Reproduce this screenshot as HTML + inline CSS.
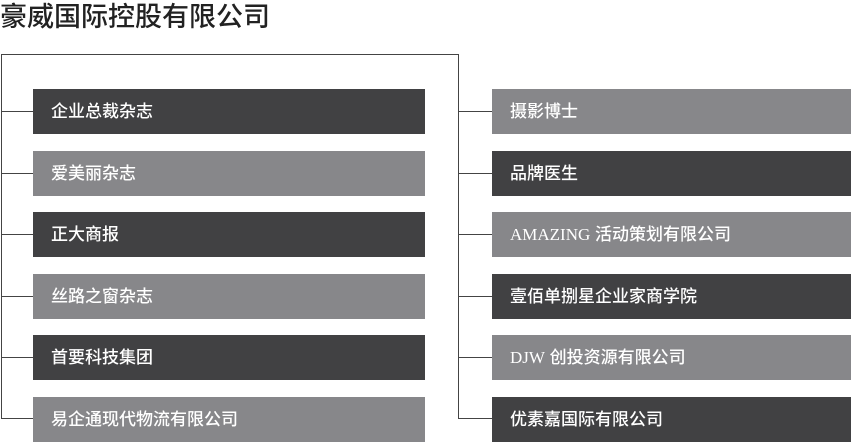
<!DOCTYPE html>
<html><head><meta charset="utf-8"><style>
body{margin:0;width:851px;height:446px;background:#fff;position:relative;overflow:hidden;font-family:"Liberation Sans","Noto Sans CJK SC",sans-serif}
.t{position:absolute;left:0;top:0;font-size:27px;color:#222;line-height:34px;font-weight:500}
.l{position:absolute;background:#444}
.b{position:absolute;height:45px;color:#fff;font-size:17px;line-height:45px;padding-left:18px;box-sizing:border-box;font-weight:500}
.d{background:#414143}.g{background:#87878a}
.s{font-family:"Liberation Serif",serif;font-weight:normal}
</style></head><body>
<div class="t">豪威国际控股有限公司</div>
<div class="l" style="left:1px;top:54px;width:458px;height:1px"></div>
<div class="l" style="left:1px;top:54px;width:1px;height:365px"></div>
<div class="l" style="left:458px;top:54px;width:1px;height:365px"></div>
<div class="l" style="left:1px;top:111px;width:32px;height:1px"></div>
<div class="l" style="left:1px;top:173px;width:32px;height:1px"></div>
<div class="l" style="left:1px;top:234px;width:32px;height:1px"></div>
<div class="l" style="left:1px;top:296px;width:32px;height:1px"></div>
<div class="l" style="left:1px;top:357px;width:32px;height:1px"></div>
<div class="l" style="left:1px;top:418px;width:32px;height:1px"></div>
<div class="l" style="left:458px;top:111px;width:34px;height:1px"></div>
<div class="l" style="left:458px;top:173px;width:34px;height:1px"></div>
<div class="l" style="left:458px;top:234px;width:34px;height:1px"></div>
<div class="l" style="left:458px;top:296px;width:34px;height:1px"></div>
<div class="l" style="left:458px;top:357px;width:34px;height:1px"></div>
<div class="l" style="left:458px;top:418px;width:34px;height:1px"></div>

<div class="b d" style="left:33px;top:89px;width:392px">企业总裁杂志</div>
<div class="b g" style="left:33px;top:151px;width:392px">爱美丽杂志</div>
<div class="b d" style="left:33px;top:212px;width:392px">正大商报</div>
<div class="b g" style="left:33px;top:274px;width:392px">丝路之窗杂志</div>
<div class="b d" style="left:33px;top:335px;width:392px">首要科技集团</div>
<div class="b g" style="left:33px;top:397px;width:392px">易企通现代物流有限公司</div>

<div class="b g" style="left:492px;top:89px;width:359px">摄影博士</div>
<div class="b d" style="left:492px;top:151px;width:359px">品牌医生</div>
<div class="b g" style="left:492px;top:212px;width:359px"><span class="s">AMAZING</span> 活动策划有限公司</div>
<div class="b d" style="left:492px;top:274px;width:359px">壹佰单捌星企业家商学院</div>
<div class="b g" style="left:492px;top:335px;width:359px"><span class="s">DJW</span> 创投资源有限公司</div>
<div class="b d" style="left:492px;top:397px;width:359px">优素嘉国际有限公司</div>
</body></html>
